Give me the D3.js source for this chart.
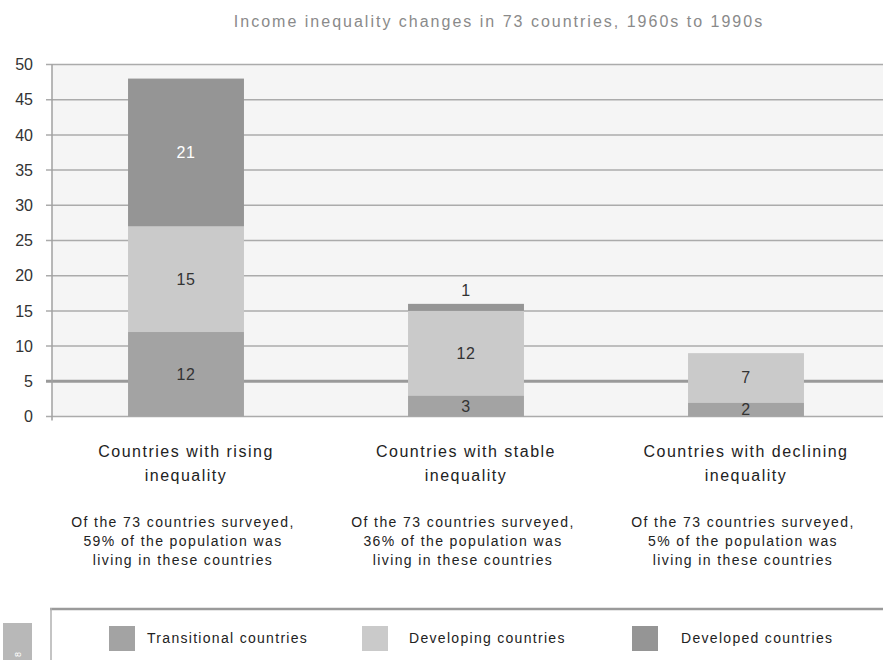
<!DOCTYPE html>
<html>
<head>
<meta charset="utf-8">
<script src="https://cdn.jsdelivr.net/npm/d3@7"></script>
<style>
  body { margin: 0; background: #fff; }
  svg { display: block; font-family: "Liberation Sans", Arial, sans-serif; }
</style>
</head>
<body>
<svg id="chart" width="883" height="660"></svg>
<script>
// data
const categories = ['rising', 'stable', 'declining']
const categoryLines = [
  ['Countries with rising', 'inequality'],
  ['Countries with stable', 'inequality'],
  ['Countries with declining', 'inequality']
]
const noteLines = [
  ['Of the 73 countries surveyed,', '59% of the population was', 'living in these countries'],
  ['Of the 73 countries surveyed,', '36% of the population was', 'living in these countries'],
  ['Of the 73 countries surveyed,', '5% of the population was', 'living in these countries']
]
const seriesNames = ['Transitional countries', 'Developing countries', 'Developed countries']
const transitional = [12, 3, 2]
const developing = [15, 12, 7]
const developed = [21, 1, 0]
const yTicks = [0, 5, 10, 15, 20, 25, 30, 35, 40, 45, 50]
const title = 'Income inequality changes in 73 countries, 1960s to 1990s'

const colors = ['#a3a3a3', '#cacaca', '#959595']

const svg = d3.select('#chart')
const W = 883

const x = d3.scaleBand()
  .domain(categories)
  .range([46, 886])
  .paddingInner(0.586)
  .paddingOuter(0.293)

const y = d3.scaleLinear()
  .domain([0, 50])
  .range([416.5, 64.5])

const rows = categories.map((c, i) => ({
  cat: c,
  'Transitional countries': transitional[i],
  'Developing countries': developing[i],
  'Developed countries': developed[i]
}))
const stacked = d3.stack().keys(seriesNames)(rows)

// title
svg.append('text')
  .attr('x', 499)
  .attr('y', 27)
  .attr('text-anchor', 'middle')
  .attr('fill', '#8a8a8a')
  .style('font-size', '16px')
  .style('letter-spacing', '2px')
  .text(title)

// plot background
svg.append('rect')
  .attr('x', 52)
  .attr('y', y(50))
  .attr('width', W - 52)
  .attr('height', y(0) - y(50))
  .attr('fill', '#f5f5f5')

// gridlines
svg.append('g')
  .selectAll('line')
  .data(yTicks)
  .enter().append('line')
  .attr('x1', 46)
  .attr('x2', W)
  .attr('y1', d => y(d))
  .attr('y2', d => y(d))
  .attr('stroke', d => d === 5 ? '#9a9a9a' : '#ababab')
  .attr('stroke-width', d => d === 5 ? 3 : 1.5)

// y axis
const yAxis = d3.axisLeft(y)
  .tickValues(yTicks)
  .tickSize(0)
  .tickPadding(19)
const gy = svg.append('g')
  .attr('transform', 'translate(52,0)')
  .call(yAxis)
gy.select('.domain').remove()
gy.selectAll('text')
  .attr('fill', '#333')
  .style('font-size', '16px')
  .style('font-family', '"Liberation Sans", Arial, sans-serif')
svg.append('line')
  .attr('x1', 52).attr('x2', 52)
  .attr('y1', y(50)).attr('y2', y(0) + 4)
  .attr('stroke', '#a0a0a0')
  .attr('stroke-width', 1.5)

// bars
const layers = svg.append('g')
  .selectAll('g')
  .data(stacked)
  .enter().append('g')
  .attr('fill', (d, i) => colors[i])

layers.selectAll('rect')
  .data(d => d)
  .enter().append('rect')
  .attr('x', d => x(d.data.cat))
  .attr('y', d => y(d[1]))
  .attr('width', x.bandwidth())
  .attr('height', d => y(d[0]) - y(d[1]))

// value labels
stacked.forEach((layer, li) => {
  layer.forEach(d => {
    const v = d[1] - d[0]
    if (v <= 0) return
    const h = y(d[0]) - y(d[1])
    const cy = h < 14 ? y(d[1]) - 13 : (y(d[0]) + y(d[1])) / 2
    svg.append('text')
      .attr('x', x(d.data.cat) + x.bandwidth() / 2)
      .attr('y', cy)
      .attr('dy', '0.35em')
      .attr('text-anchor', 'middle')
      .attr('fill', li === 2 && h >= 14 ? '#fff' : '#333')
      .style('font-size', '16px')
      .style('letter-spacing', '0.5px')
      .text(v)
  })
})

// category labels
categoryLines.forEach((lines, i) => {
  const cx = x(categories[i]) + x.bandwidth() / 2
  const t = svg.append('text')
    .attr('text-anchor', 'middle')
    .attr('fill', '#222')
    .style('font-size', '16px')
    .style('letter-spacing', '1.5px')
  lines.forEach((l, j) => {
    t.append('tspan').attr('x', cx).attr('y', 457 + j * 24).text(l)
  })
  const n = svg.append('text')
    .attr('text-anchor', 'middle')
    .attr('fill', '#222')
    .style('font-size', '14px')
    .style('letter-spacing', '1.4px')
  noteLines[i].forEach((l, j) => {
    n.append('tspan').attr('x', cx - 3).attr('y', 527 + j * 19).text(l)
  })
})

// legend
svg.append('rect')
  .attr('x', 3).attr('y', 623)
  .attr('width', 29).attr('height', 40)
  .attr('fill', '#b8b8b8')
svg.append('text')
  .attr('transform', 'translate(21,657) rotate(-90)')
  .attr('fill', '#fff')
  .style('font-size', '9px')
  .text('8')

svg.append('line')
  .attr('x1', 50).attr('x2', W)
  .attr('y1', 609).attr('y2', 609)
  .attr('stroke', '#9a9a9a').attr('stroke-width', 2.5)
svg.append('line')
  .attr('x1', 51).attr('x2', 51)
  .attr('y1', 608).attr('y2', 660)
  .attr('stroke', '#b0b0b0').attr('stroke-width', 1.5)

const legendX = [109, 362, 632]
const legend = svg.append('g')
  .selectAll('g')
  .data(seriesNames)
  .enter().append('g')
  .attr('transform', (d, i) => `translate(${legendX[i]},626)`)
legend.append('rect')
  .attr('width', 26).attr('height', 25)
  .attr('fill', (d, i) => colors[i])
legend.append('text')
  .attr('x', (d, i) => i === 0 ? 38 : (i === 1 ? 47 : 49))
  .attr('y', 12.5)
  .attr('dy', '0.35em')
  .attr('fill', '#222')
  .style('font-size', '14px')
  .style('letter-spacing', '1.3px')
  .text(d => d)
</script>
</body>
</html>
